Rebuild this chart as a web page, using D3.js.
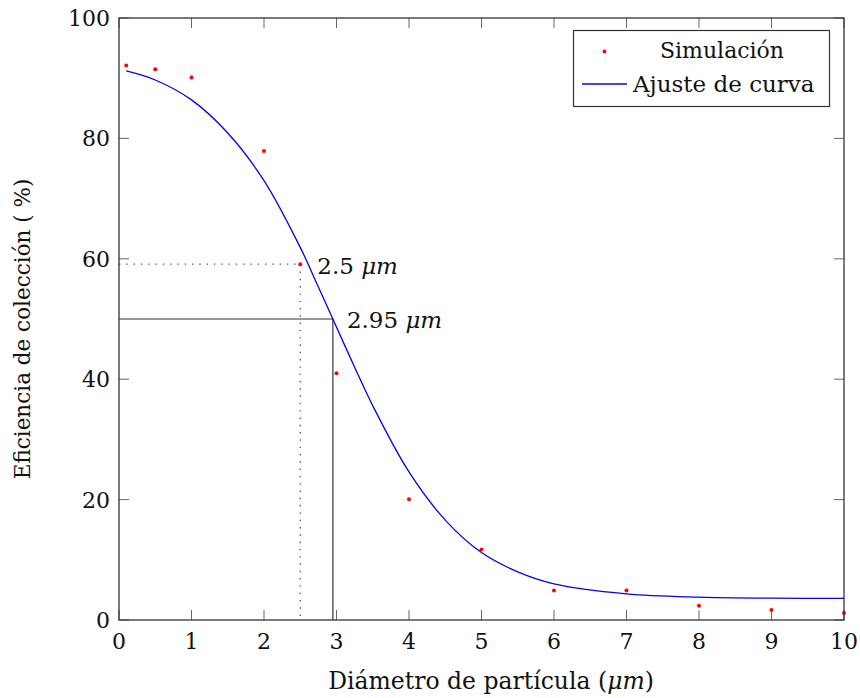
<!DOCTYPE html>
<html><head><meta charset="utf-8">
<script src="https://cdn.jsdelivr.net/npm/d3@7/dist/d3.min.js"></script>
<style>body{margin:0;background:#fff}</style>
</head><body><svg id="c" width="860" height="698" font-family="'DejaVu Serif', 'Liberation Serif', serif"></svg>
<script>
// Data
const simX = [0.1, 0.5, 1, 2, 2.5, 3, 4, 5, 6, 7, 8, 9, 10];
const simY = [92.1, 91.5, 90.1, 77.9, 59.1, 41.0, 20.05, 11.7, 4.9, 4.9, 2.38, 1.66, 1.16];
const fitX = [0.1, 0.5, 1.0, 1.5, 2.0, 2.5, 2.75, 2.95, 3.25, 3.5, 4.0, 4.5, 5.0, 5.5, 6.0, 7.0, 8.0, 9.0, 10.0];
const fitY = [91.2, 89.7, 86.4, 80.9, 73.0, 61.9, 55.3, 50.0, 42.0, 35.6, 24.6, 16.6, 11.2, 8.0, 6.0, 4.35, 3.8, 3.62, 3.58];
const xTicks = [0,1,2,3,4,5,6,7,8,9,10];
const yTicks = [0,20,40,60,80,100];
const marks = [{x:2.5, y:59.1, label:"2.5", dotted:true},{x:2.95, y:50, label:"2.95", dotted:false}];

const svg = d3.select("#c");
const L=119, R=844, T=18, B=620;
const x = d3.scaleLinear().domain([0,10]).range([L,R]);
const y = d3.scaleLinear().domain([0,100]).range([B,T]);
const tl = 10;

// reference lines
marks.forEach(m=>{
  const st = m.dotted ? {c:"#555", w:1.3, d:"1.4,5.9"} : {c:"#333", w:1.2, d:null};
  svg.append("line").attr("x1",x(0)).attr("x2",x(m.x)).attr("y1",y(m.y)).attr("y2",y(m.y))
    .attr("stroke",st.c).attr("stroke-width",st.w).attr("stroke-dasharray",st.d);
  svg.append("line").attr("x1",x(m.x)).attr("x2",x(m.x)).attr("y1",y(m.y)).attr("y2",y(0))
    .attr("stroke",st.c).attr("stroke-width",st.w).attr("stroke-dasharray",st.d);
});

// ticks (inside, all four sides)
const tg = svg.append("g").attr("stroke","#666").attr("stroke-width",1);
xTicks.forEach(t=>{
  tg.append("line").attr("x1",x(t)).attr("x2",x(t)).attr("y1",B).attr("y2",B-tl);
  tg.append("line").attr("x1",x(t)).attr("x2",x(t)).attr("y1",T).attr("y2",T+tl);
});
yTicks.forEach(t=>{
  tg.append("line").attr("x1",L).attr("x2",L+tl).attr("y1",y(t)).attr("y2",y(t));
  tg.append("line").attr("x1",R).attr("x2",R-tl).attr("y1",y(t)).attr("y2",y(t));
});

// curve
const line = d3.line().x((d,i)=>x(fitX[i])).y((d,i)=>y(fitY[i])).curve(d3.curveCatmullRom.alpha(0.5));
svg.append("path").attr("d", line(fitY)).attr("fill","none").attr("stroke","#0000ff").attr("stroke-width",1.3);

// points
svg.append("g").selectAll("circle").data(simY).join("circle")
  .attr("cx",(d,i)=>x(simX[i])).attr("cy",d=>y(d)).attr("r",2).attr("fill","#ff0000");

// frame
svg.append("rect").attr("x",L).attr("y",T).attr("width",R-L).attr("height",B-T)
  .attr("fill","none").attr("stroke","#333").attr("stroke-width",1.3);

// tick labels
const fs = 22;
const txt = (sel)=>sel.attr("fill","#111");
svg.append("g").selectAll("text").data(xTicks).join("text").call(txt)
  .attr("x",d=>x(d)).attr("y",B+29).attr("text-anchor","middle").attr("font-size",fs).text(d=>d);
svg.append("g").selectAll("text").data(yTicks).join("text").call(txt)
  .attr("x",L-9).attr("y",d=>y(d)+8).attr("text-anchor","end").attr("font-size",fs).text(d=>d);

// axis titles
const xt = svg.append("text").call(txt).attr("x",491).attr("y",689).attr("text-anchor","middle").attr("font-size",23.5);
xt.append("tspan").text("Diámetro de partícula (");
xt.append("tspan").attr("font-style","italic").text("μm");
xt.append("tspan").text(")");
svg.append("text").call(txt).attr("transform",`translate(30,329) rotate(-90)`).attr("text-anchor","middle")
  .attr("font-size",21.5).text("Eficiencia de colección ( %)");

// annotations
marks.forEach((m,i)=>{
  const t = svg.append("text").call(txt).attr("x",x(m.x)+(i==0?17:14)).attr("y",y(m.y)+(i==0?10:9)).attr("font-size",fs+1);
  t.append("tspan").text(m.label+" ");
  t.append("tspan").attr("font-style","italic").text("μm");
});

// legend
const lg = svg.append("g");
lg.append("rect").attr("x",573.5).attr("y",30.5).attr("width",256).attr("height",76)
  .attr("fill","#fff").attr("stroke","#333").attr("stroke-width",1.2);
lg.append("circle").attr("cx",604.5).attr("cy",51.5).attr("r",2).attr("fill","#ff0000");
lg.append("line").attr("x1",582).attr("x2",627).attr("y1",84).attr("y2",84).attr("stroke","#0000ff").attr("stroke-width",1.3);
lg.append("text").call(txt).attr("x",722).attr("y",58).attr("text-anchor","middle").attr("font-size",fs).text("Simulación");
lg.append("text").call(txt).attr("x",633).attr("y",92).attr("font-size",fs+1).text("Ajuste de curva");
</script></body></html>
